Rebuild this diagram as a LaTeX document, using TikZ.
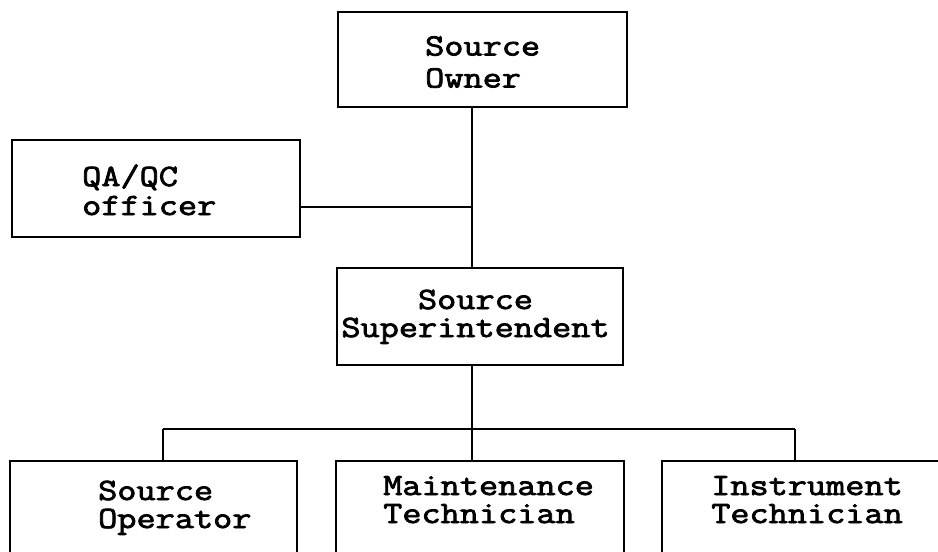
\documentclass[tikz,border=0pt]{standalone}
\usepackage{fontspec}
\newfontfamily\cour{Latin Modern Mono}[FakeStretch=1.2, FakeBold=2.5]
\newcommand\tw[1]{\cour\fontsize{31}{#1}\selectfont\lineskiplimit=-50pt\relax}
\begin{document}
\begin{tikzpicture}[x=1pt,y=-1pt,
  box/.style={draw, line width=2.4pt, inner sep=0pt},
  lbl/.style={align=left, inner sep=0pt, anchor=base west},
  wire/.style={line width=2.4pt}]
\useasboundingbox (0,0) rectangle (938,552);
\clip (0,0) rectangle (938,552);
% main boxes
\node[box, minimum width=289, minimum height=95] (owner) at (482.5,59.5) {};
\node[box, minimum width=288, minimum height=97] (qa) at (156,188.5) {};
\node[box, minimum width=286, minimum height=97] (super) at (480,316.5) {};
% texts (anchor = baseline of the last line)
\node[lbl, font={\tw{32}}] (ownert) at (425,87.5) {Source\\Owner};
\node[lbl, font={\tw{29}}] (qat) at (82,215) {QA/QC\\officer};
\node[lbl, align=center, anchor=base, font={\tw{28}}] (supert) at (475.5,337) {Source\\Superintendent};
\node[lbl, font={\tw{28}}] (opert) at (98,528) {Source\\Operator};
\node[lbl, font={\tw{28}}] (maintt) at (383,523) {Maintenance\\Technician};
\node[lbl, font={\tw{28}}] (instrt) at (711,523) {Instrument\\Technician};
% bottom (open) boxes
\coordinate (btop) at (0,461);
\coordinate (bbot) at (0,600);
\coordinate (operL) at (10,0);   \coordinate (operR) at (297,0);
\coordinate (maintL) at (336,0); \coordinate (maintR) at (624,0);
\coordinate (instrL) at (662,0); \coordinate (instrR) at (950,0);
\foreach \n in {oper,maint,instr}{
  \draw[wire] (\n L |- bbot) -- (\n L |- btop) -- (\n R |- btop) -- (\n R |- bbot);
}
% connectors
\coordinate (spine) at (472,0);
\coordinate (qaj) at (472,207);
\coordinate (bl) at (163,429);
\coordinate (br) at (795,429);
\draw[wire] (owner.south -| spine) -- (super.north -| spine);
\draw[wire] (qa.east |- qaj) -- (qaj);
\draw[wire] (super.south -| spine) -- (btop -| spine);
\draw[wire] (bl) -- (br);
\draw[wire] (bl) -- (btop -| bl);
\draw[wire] (br) -- (btop -| br);
\end{tikzpicture}
\end{document}
